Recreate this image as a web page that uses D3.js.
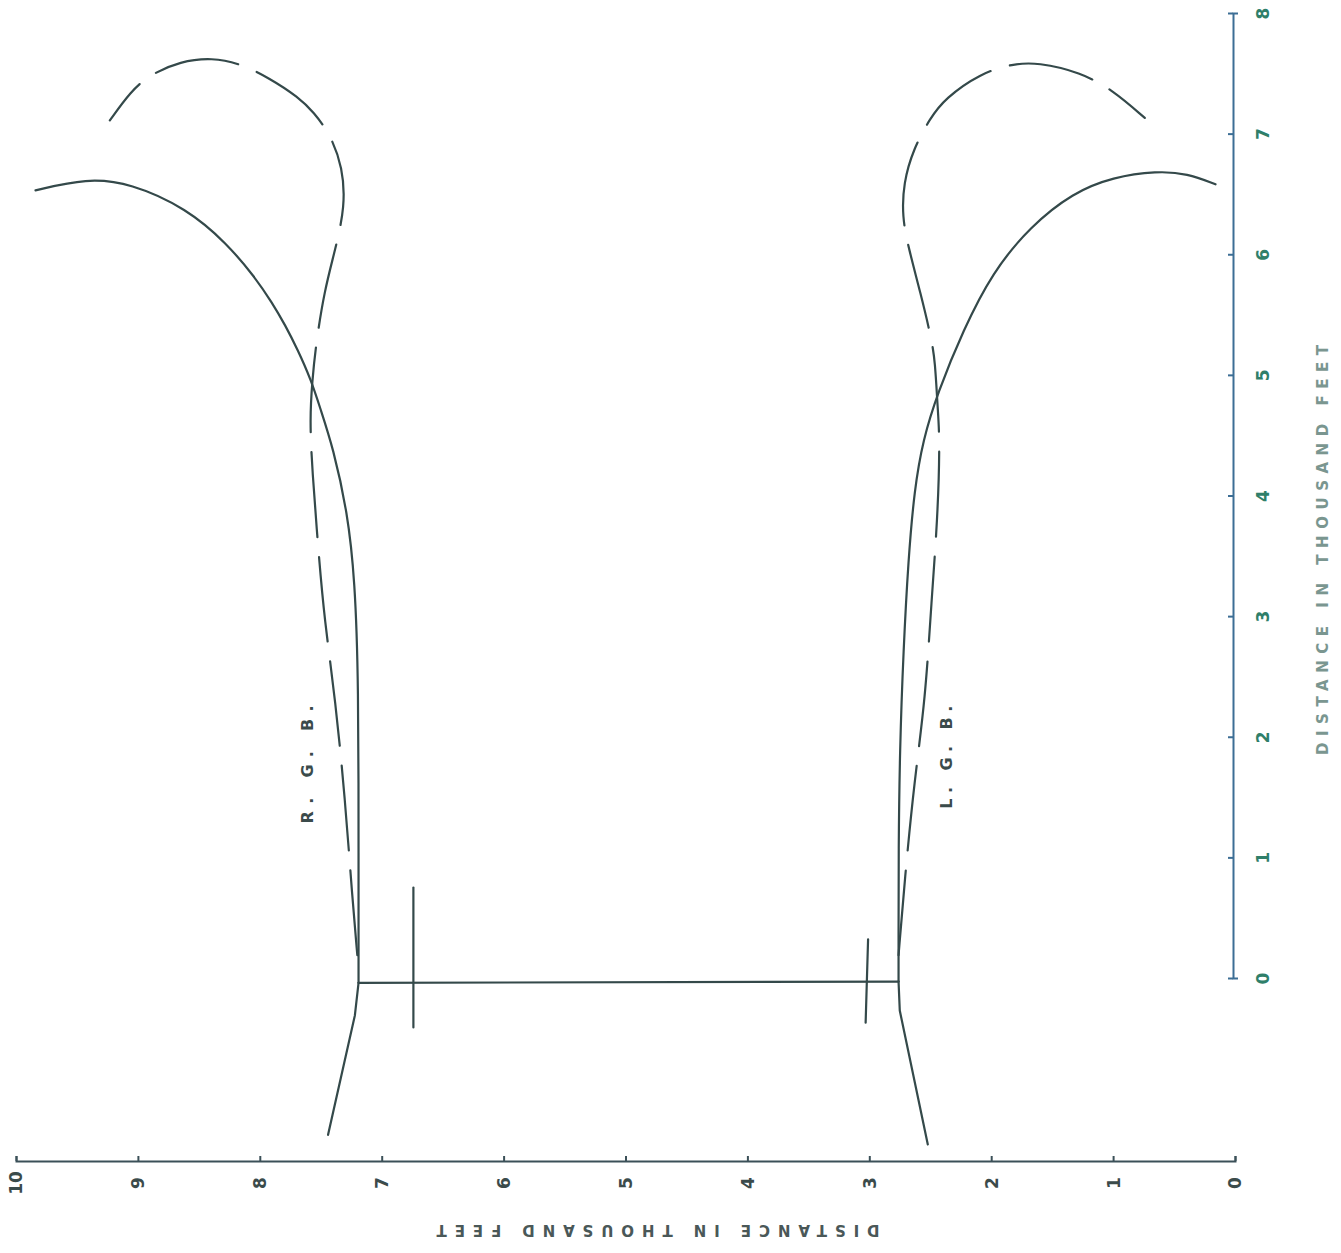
<!DOCTYPE html>
<html>
<head>
<meta charset="utf-8">
<script src="https://d3js.org/d3.v7.min.js"></script>
<style>
body { margin: 0; background: #fff; }
svg { display: block; }
.curve { fill: none; stroke: #34494a; stroke-width: 2.2; stroke-linecap: round; }
.dashed { stroke-dasharray: 85, 20; }
.axis text { font-family: "DejaVu Sans", sans-serif; font-size: 17px; font-weight: bold; }
.axis--x path, .axis--x line { stroke: #3b5058; stroke-width: 2; }
.axis--x text { fill: #3b4b4b; }
.axis--y path, .axis--y line { stroke: #3c6e95; stroke-width: 2; }
.axis--y text { fill: #2f7f6a; }
.title { font-family: "DejaVu Sans", sans-serif; font-size: 15px; font-weight: bold; }
.label { font-family: "DejaVu Sans", sans-serif; font-size: 16px; font-weight: bold; fill: #3b4b4b; }
</style>
</head>
<body>
<script>

// distances in thousand feet: [across, along]
var rgbSolid = [[7.19,-0.04],[7.19,0.95],[7.19,2.47],[7.22,3.30],[7.28,3.86],[7.40,4.40],[7.50,4.71],
                [7.58,4.96],[7.69,5.21],[7.79,5.41],[7.90,5.60],[8.04,5.81],[8.27,6.09],[8.60,6.38],
                [9.06,6.59],[9.42,6.63],[9.84,6.53]];
var rgbDashed = [[7.20,0.19],[7.24,0.65],[7.30,1.48],[7.38,2.31],[7.47,2.97],[7.52,3.55],[7.57,4.21],
                 [7.59,4.63],[7.57,4.95],[7.54,5.25],[7.47,5.70],[7.38,6.04],[7.30,6.40],[7.32,6.72],
                 [7.42,6.99],[7.56,7.18],[7.68,7.30],[7.92,7.46],[8.16,7.58],[8.39,7.63],[8.65,7.60],
                 [8.90,7.49],[9.06,7.35],[9.23,7.11]];
var rgbLower = [[7.19,-0.04],[7.22,-0.31],[7.44,-1.30]];

var lgbSolid = [[2.76,-0.03],[2.76,0.32],[2.76,1.06],[2.75,1.89],[2.72,2.72],[2.68,3.47],[2.63,4.05],
                [2.56,4.46],[2.44,4.85],[2.23,5.37],[1.99,5.85],[1.68,6.23],[1.33,6.51],[1.00,6.64],
                [0.64,6.69],[0.39,6.67],[0.16,6.58]];
var lgbDashed = [[2.76,0.19],[2.71,0.81],[2.63,1.64],[2.54,2.31],[2.49,3.13],[2.44,3.80],[2.42,4.46],
                 [2.44,4.73],[2.46,5.11],[2.49,5.30],[2.58,5.68],[2.68,6.06],[2.73,6.31],[2.72,6.59],
                 [2.64,6.87],[2.50,7.13],[2.38,7.29],[2.09,7.50],[1.82,7.58],[1.62,7.59],[1.27,7.51],
                 [1.00,7.36],[0.74,7.13]];
var lgbLower = [[2.76,-0.03],[2.75,-0.27],[2.52,-1.38]];

var baseLine = [[7.19,-0.04],[2.76,-0.03]];
var markers = [[[6.74,0.75],[6.74,-0.41]], [[3.01,0.32],[3.03,-0.37]]];

var xTicks = [10, 9, 8, 7, 6, 5, 4, 3, 2, 1, 0];
var yTicks = [0, 1, 2, 3, 4, 5, 6, 7, 8];
var labels = [["R. G. B.", 7.61, 1.77, 118], ["L. G. B.", 2.37, 1.83, 103]];
var axisTitle = "DISTANCE  IN  THOUSAND  FEET";

var W = 1341, H = 1253;
var svg = d3.select("body").append("svg").attr("width", W).attr("height", H);

var x = d3.scaleLinear().domain([10, 0]).range([16, 1235]),
    y = d3.scaleLinear().domain([0, 8]).range([978, 13]);

var axisY0 = 1161, axisX0 = 1233;

var line = d3.line()
    .x(function(d) { return x(d[0]); })
    .y(function(d) { return y(d[1]); })
    .curve(d3.curveBasis);
var straight = d3.line()
    .x(function(d) { return x(d[0]); })
    .y(function(d) { return y(d[1]); });

// bottom axis, labels turned a quarter
var gx = svg.append("g")
    .attr("class", "axis axis--x")
    .attr("transform", "translate(0," + axisY0 + ")")
    .call(d3.axisBottom(x).tickValues(xTicks).tickSizeInner(-5).tickSizeOuter(-5).tickFormat(d3.format("d")));
gx.selectAll("text")
    .attr("y", 0).attr("dy", "0.35em")
    .attr("transform", "translate(0,22) rotate(-90)");

// right axis, labels turned
var gy = svg.append("g")
    .attr("class", "axis axis--y")
    .attr("transform", "translate(" + axisX0 + ",0)")
    .call(d3.axisRight(y).tickValues(yTicks).tickSizeInner(-5).tickSizeOuter(5).tickFormat(d3.format("d")));
gy.selectAll("text")
    .attr("x", 0).attr("dy", "0.35em")
    .style("text-anchor", "middle")
    .attr("transform", "translate(30,0) rotate(-90)");

svg.append("text")
    .attr("class", "title")
    .attr("fill", "#4a5858")
    .attr("text-anchor", "middle")
    .attr("textLength", 443).attr("lengthAdjust", "spacing")
    .attr("transform", "translate(658,1230) rotate(180)")
    .attr("dy", "0.35em")
    .text(axisTitle);

svg.append("text")
    .attr("class", "title")
    .attr("fill", "#7a9690")
    .attr("text-anchor", "middle")
    .attr("textLength", 410).attr("lengthAdjust", "spacing")
    .attr("transform", "translate(1323,550) rotate(-90)")
    .attr("dy", "0.35em")
    .text(axisTitle);

// curves
[rgbSolid, lgbSolid].forEach(function(d) {
  svg.append("path").datum(d).attr("class", "curve").attr("d", line);
});
[rgbDashed, lgbDashed].forEach(function(d) {
  svg.append("path").datum(d).attr("class", "curve dashed").attr("d", line);
});
[rgbLower, lgbLower, baseLine].concat(markers).forEach(function(d) {
  svg.append("path").datum(d).attr("class", "curve").attr("d", straight);
});

svg.selectAll(".label")
    .data(labels)
  .enter().append("text")
    .attr("class", "label")
    .attr("text-anchor", "middle")
    .attr("dy", "0.35em")
    .attr("textLength", function(d) { return d[3]; })
    .attr("lengthAdjust", "spacing")
    .attr("transform", function(d) { return "translate(" + x(d[1]) + "," + y(d[2]) + ") rotate(-90)"; })
    .text(function(d) { return d[0]; });

</script>
</body>
</html>
